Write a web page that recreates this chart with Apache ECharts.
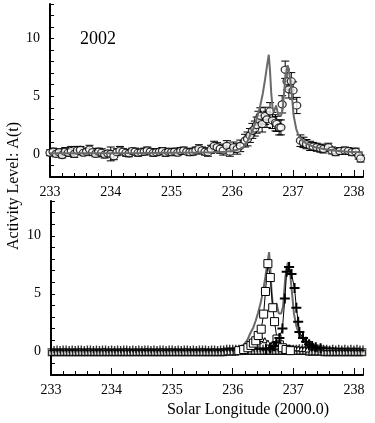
<!DOCTYPE html>
<html>
<head>
<meta charset="utf-8">
<script src="https://cdn.jsdelivr.net/npm/echarts@6/dist/echarts.min.js"></script>
<style>
html,body{margin:0;padding:0;background:#fff;}
#chart{width:375px;height:423px;}
</style>
</head>
<body>
<div id="chart"></div>
<script>
// ---------- DATA ----------
const xTicks = [233, 234, 235, 236, 237, 238];
const yTicks = [0, 5, 10];
const yearLabel = "2002";

// Top panel: observed activity (circles with error bars)
const topX = [233.00,233.05,233.10,233.15,233.20,233.25,233.30,233.35,233.40,233.45,
  233.50,233.55,233.60,233.65,233.70,233.75,233.80,233.85,233.90,233.95,
  234.00,234.05,234.10,234.15,234.20,234.25,234.30,234.35,234.40,234.45,
  234.50,234.55,234.60,234.65,234.70,234.75,234.80,234.85,234.90,234.95,
  235.00,235.05,235.10,235.15,235.20,235.25,235.30,235.35,235.40,235.45,
  235.50,235.55,235.60,235.65,235.70,235.75,
  235.80,235.85,235.91,235.96,236.02,236.08,236.13,236.21,236.25,236.29,
  236.33,236.37,236.40,236.43,236.46,236.49,236.54,236.57,236.62,236.66,
  236.71,236.73,236.77,236.80,236.82,236.87,236.90,236.93,236.97,237.00,
  237.06,237.12,237.17,237.22,237.28,237.33,237.39,237.45,237.50,237.58,
  237.64,237.70,237.77,237.85,237.91,237.97,238.03,238.08,238.11];
const topY = [0.10,0.20,0.00,0.15,-0.10,0.20,0.10,0.25,0.00,0.30,
  0.35,0.10,0.20,0.40,0.15,0.00,0.20,0.10,-0.05,0.05,
  0.00,-0.20,0.15,0.30,0.20,0.10,0.05,0.25,0.20,0.10,
  0.15,0.20,0.30,0.20,0.10,0.15,0.20,0.25,0.10,0.20,
  0.15,0.20,0.10,0.25,0.30,0.20,0.15,0.20,0.30,0.45,
  0.30,0.20,0.15,0.40,0.70,0.58,
  0.45,0.30,0.70,0.20,0.58,0.43,0.70,1.15,1.30,1.60,
  2.00,2.20,2.50,3.00,3.30,2.60,3.30,3.00,3.70,2.90,
  2.70,2.60,2.30,2.30,4.30,7.30,6.30,5.60,6.30,5.50,
  4.20,1.15,1.00,0.85,0.70,0.65,0.58,0.50,0.43,0.58,
  0.30,0.15,0.25,0.30,0.25,0.15,0.20,-0.15,-0.40];
const topErr = [0.25,0.30,0.25,0.30,0.25,0.35,0.30,0.40,0.30,0.35,
  0.30,0.25,0.30,0.35,0.30,0.25,0.30,0.35,0.30,0.25,
  0.60,0.30,0.30,0.35,0.25,0.30,0.30,0.25,0.30,0.30,
  0.25,0.30,0.30,0.25,0.30,0.30,0.25,0.30,0.30,0.25,
  0.30,0.30,0.25,0.30,0.30,0.25,0.30,0.30,0.30,0.35,
  0.30,0.30,0.35,0.35,0.40,0.40,
  0.40,0.40,0.45,0.40,0.45,0.45,0.50,0.55,0.60,0.60,
  0.65,0.65,0.70,0.70,0.70,0.70,0.75,0.70,0.75,0.70,
  0.70,0.65,0.65,0.65,0.75,0.75,0.75,0.75,0.75,0.75,
  0.70,0.50,0.45,0.40,0.40,0.35,0.35,0.35,0.35,0.35,
  0.30,0.30,0.30,0.30,0.30,0.30,0.30,0.30,0.30];

// Model total activity (grey curve, both panels)
const modelX = [233.0,233.5,234.0,234.5,235.0,235.4,235.7,235.9,236.0,236.1,
  236.18,236.24,236.29,236.34,236.38,236.42,236.46,236.50,236.54,236.57,
  236.60,236.62,236.64,236.66,236.68,236.72,236.76,236.80,236.83,236.87,
  236.91,236.95,236.98,237.01,237.05,237.09,237.15,237.23,237.35,237.50,
  237.70,237.90,238.15];
const modelY = [0.05,0.06,0.07,0.08,0.10,0.12,0.15,0.20,0.25,0.38,
  0.60,1.00,1.60,2.10,2.70,3.40,4.20,5.20,6.50,7.60,
  8.60,7.20,5.30,4.10,3.60,4.20,3.30,3.30,3.90,6.50,
  7.70,6.60,5.00,3.30,2.20,1.60,1.15,0.86,0.60,0.43,
  0.28,0.18,0.12];

// Bottom panel: component 1 (squares)
const sqX = [236.10,236.18,236.25,236.30,236.34,236.38,236.42,236.47,236.51,236.54,
  236.58,236.62,236.66,236.69,236.73,236.77,236.82,236.88,236.95];
const sqY = [0.10,0.20,0.35,0.55,0.75,0.95,1.40,1.95,3.25,5.20,
  7.60,6.40,3.80,2.60,1.10,0.60,0.35,0.20,0.10];

// Bottom panel: component 2 (crosses)
const crX = [236.55,236.62,236.68,236.72,236.77,236.82,236.86,236.89,236.93,236.97,
  237.02,237.05,237.08,237.10,237.16,237.21,237.26,237.31,237.37,237.45];
const crY = [0.20,0.30,0.50,0.80,1.20,2.00,4.60,6.90,7.30,6.70,
  5.50,3.80,2.60,1.70,1.20,0.87,0.65,0.50,0.40,0.30];

// Bottom panel: minor component (triangles)
const triX = [236.28,236.33,236.38,236.43,236.48,236.53,236.58,236.63,236.68,236.73,
  236.78,236.83,236.88,236.93,236.98,237.03,237.08,237.13,237.18,237.23];
const triY = [0.30,0.45,0.65,0.90,1.10,1.00,0.80,0.60,0.45,0.40,
  0.50,0.55,0.45,0.40,0.35,0.30,0.30,0.25,0.25,0.20];

// Bottom panel: background components (dense band)
const bandX = [233.00,233.05,233.10,233.15,233.20,233.25,233.30,233.35,233.40,233.45,
  233.50,233.55,233.60,233.65,233.70,233.75,233.80,233.85,233.90,233.95,
  234.00,234.05,234.10,234.15,234.20,234.25,234.30,234.35,234.40,234.45,
  234.50,234.55,234.60,234.65,234.70,234.75,234.80,234.85,234.90,234.95,
  235.00,235.05,235.10,235.15,235.20,235.25,235.30,235.35,235.40,235.45,
  235.50,235.55,235.60,235.65,235.70,235.75,235.80,235.85,235.90,235.95,
  236.00,236.05,236.10,236.15,236.20,236.25,236.30,236.35,236.40,236.45,
  236.50,236.55,236.60,236.65,236.70,236.75,236.80,236.85,236.90,236.95,
  237.00,237.05,237.10,237.15,237.20,237.25,237.30,237.35,237.40,237.45,
  237.50,237.55,237.60,237.65,237.70,237.75,237.80,237.85,237.90,237.95,
  238.00,238.05,238.10,238.15];
const bandCross = [0.25,0.20,0.25,0.20,0.25,0.25,0.20,0.25,0.20,0.25,
  0.25,0.20,0.25,0.25,0.20,0.25,0.20,0.25,0.25,0.20,
  0.25,0.20,0.25,0.20,0.25,0.25,0.20,0.25,0.20,0.25,
  0.20,0.25,0.25,0.20,0.25,0.20,0.25,0.25,0.20,0.25,
  0.25,0.20,0.25,0.20,0.25,0.25,0.20,0.25,0.20,0.25,
  0.25,0.25,0.20,0.25,0.25,0.20,0.25,0.25,0.30,0.30,
  0.30,0.30,0.30,0.30,0.30,0.30,0.30,0.30,0.30,0.30,
  0.30,0.30,0.30,0.30,0.30,0.30,0.30,0.30,0.30,0.30,
  0.30,0.30,0.35,0.35,0.35,0.35,0.30,0.30,0.30,0.30,
  0.30,0.30,0.25,0.30,0.25,0.30,0.25,0.30,0.25,0.30,
  0.25,0.30,0.25,0.25];
const bandSquare = [-0.10,-0.10,-0.10,-0.10,-0.10,-0.10,-0.10,-0.10,-0.10,-0.10,
  -0.10,-0.10,-0.10,-0.10,-0.10,-0.10,-0.10,-0.10,-0.10,-0.10,
  -0.10,-0.10,-0.10,-0.10,-0.10,-0.10,-0.10,-0.10,-0.10,-0.10,
  -0.10,-0.10,-0.10,-0.10,-0.10,-0.10,-0.10,-0.10,-0.10,-0.10,
  -0.10,-0.10,-0.10,-0.10,-0.10,-0.10,-0.10,-0.10,-0.10,-0.10,
  -0.10,-0.10,-0.10,-0.10,-0.10,-0.10,-0.10,-0.10,-0.05,-0.05,
  -0.05,-0.05,0.00,0.00,0.00,0.00,0.00,0.00,0.00,0.00,
  0.00,0.00,0.00,0.00,0.00,0.00,0.00,0.00,0.00,0.00,
  0.00,0.00,0.00,0.00,0.00,-0.05,-0.05,-0.05,-0.05,-0.05,
  -0.10,-0.10,-0.10,-0.10,-0.10,-0.10,-0.10,-0.10,-0.10,-0.10,
  -0.10,-0.10,-0.10,-0.10];

// ---------- CHART ----------
const FONT = "'Liberation Serif', 'DejaVu Serif', serif";
const zip = (a, b) => a.map((v, i) => [v, b[i]]);
const plusPath = 'path://M4,0H6V4H10V6H6V10H4V6H0V4H4Z';

function makeXAxis(gi) {
  return {
    gridIndex: gi, type: 'value', min: 233, max: 238.15, interval: 1,
    axisLine: { onZero: false, lineStyle: { color: '#000', width: 2 } },
    axisTick: { inside: true, length: 7, lineStyle: { color: '#000', width: 1 } },
    minorTick: { show: true, splitNumber: 5, length: 4, lineStyle: { color: '#000', width: 1 } },
    splitLine: { show: false }, minorSplitLine: { show: false },
    axisLabel: {
      margin: 8, color: '#000', fontFamily: FONT, fontSize: 14,
      formatter: v => xTicks.includes(v) ? String(v) : ''
    }
  };
}
function makeYAxis(gi) {
  return {
    gridIndex: gi, type: 'value', min: -2, max: 13, interval: 1,
    axisLine: { onZero: false, lineStyle: { color: '#000', width: 2 } },
    axisTick: { inside: true, length: 4, lineStyle: { color: '#000', width: 1 } },
    splitLine: { show: false },
    axisLabel: {
      margin: 10, color: '#000', fontFamily: FONT, fontSize: 14,
      formatter: v => yTicks.includes(v) ? String(v) : ''
    }
  };
}

const errData = topX.map((x, i) => [x, topY[i], topErr[i]]);

const option = {
  animation: false,
  backgroundColor: '#fff',
  grid: [
    { left: 50, top: 4, width: 313, height: 173 },
    { left: 51, top: 201, width: 312, height: 174 }
  ],
  xAxis: [makeXAxis(0), makeXAxis(1)],
  yAxis: [makeYAxis(0), makeYAxis(1)],
  graphic: [
    { type: 'text', left: 80, top: 30, style: { text: yearLabel, font: "18px " + FONT, fill: '#000' } },
    { type: 'text', x: 14, y: 186, rotation: Math.PI / 2,
      style: { text: 'Activity Level: A(t)', font: "16px " + FONT, fill: '#000', align: 'center', verticalAlign: 'middle' } },
    { type: 'text', x: 248, y: 410,
      style: { text: 'Solar Longitude (2000.0)', font: "16px " + FONT, fill: '#000', align: 'center', verticalAlign: 'middle' } }
  ],
  series: [
    {
      type: 'custom', xAxisIndex: 0, yAxisIndex: 0, z: 2,
      data: errData,
      encode: { x: 0, y: 1 },
      renderItem: function (params, api) {
        const x = api.value(0), y = api.value(1), e = api.value(2);
        const t = api.coord([x, y + e]);
        const b = api.coord([x, y - e]);
        const h = 4;
        const st = { stroke: '#000', lineWidth: 1 };
        return {
          type: 'group', children: [
            { type: 'line', shape: { x1: t[0], y1: t[1], x2: b[0], y2: b[1] }, style: st },
            { type: 'line', shape: { x1: t[0] - h, y1: t[1], x2: t[0] + h, y2: t[1] }, style: st },
            { type: 'line', shape: { x1: b[0] - h, y1: b[1], x2: b[0] + h, y2: b[1] }, style: st }
          ]
        };
      }
    },
    {
      type: 'scatter', xAxisIndex: 0, yAxisIndex: 0, z: 3,
      data: zip(topX, topY), symbol: 'circle', symbolSize: [8, 7],
      itemStyle: { color: '#fff', borderColor: '#000', borderWidth: 1.2 }
    },
    {
      type: 'line', xAxisIndex: 0, yAxisIndex: 0, z: 4,
      data: zip(modelX, modelY), showSymbol: false, symbol: 'none',
      lineStyle: { color: '#6a6a6a', width: 2 }
    },
    // bottom panel
    {
      type: 'line', xAxisIndex: 1, yAxisIndex: 1, z: 2,
      data: zip(modelX, modelY), showSymbol: false, symbol: 'none',
      lineStyle: { color: '#6a6a6a', width: 2 }
    },
    {
      type: 'scatter', xAxisIndex: 1, yAxisIndex: 1, z: 3,
      data: zip(bandX, bandSquare), symbol: 'rect', symbolSize: 5,
      itemStyle: { color: '#fff', borderColor: '#000', borderWidth: 1.5 }
    },
    {
      type: 'scatter', xAxisIndex: 1, yAxisIndex: 1, z: 3,
      data: zip(bandX, bandCross), symbol: plusPath, symbolSize: 7,
      itemStyle: { color: '#000' }
    },
    {
      type: 'line', xAxisIndex: 1, yAxisIndex: 1, z: 4,
      data: zip(triX, triY), symbol: 'triangle', symbolSize: 5, showAllSymbol: true,
      lineStyle: { color: '#000', width: 1 },
      itemStyle: { color: '#fff', borderColor: '#000', borderWidth: 1 }
    },
    {
      type: 'line', xAxisIndex: 1, yAxisIndex: 1, z: 5,
      data: zip(sqX, sqY), symbol: 'rect', symbolSize: 8, showAllSymbol: true,
      lineStyle: { color: '#000', width: 1 },
      itemStyle: { color: '#fff', borderColor: '#000', borderWidth: 1 }
    },
    {
      type: 'line', xAxisIndex: 1, yAxisIndex: 1, z: 5,
      data: zip(crX, crY), symbol: plusPath, symbolSize: 10, showAllSymbol: true,
      lineStyle: { color: '#000', width: 1 },
      itemStyle: { color: '#000' }
    }
  ]
};

const chart = echarts.init(document.getElementById('chart'), null, { renderer: 'canvas' });
chart.setOption(option);
</script>
</body>
</html>
